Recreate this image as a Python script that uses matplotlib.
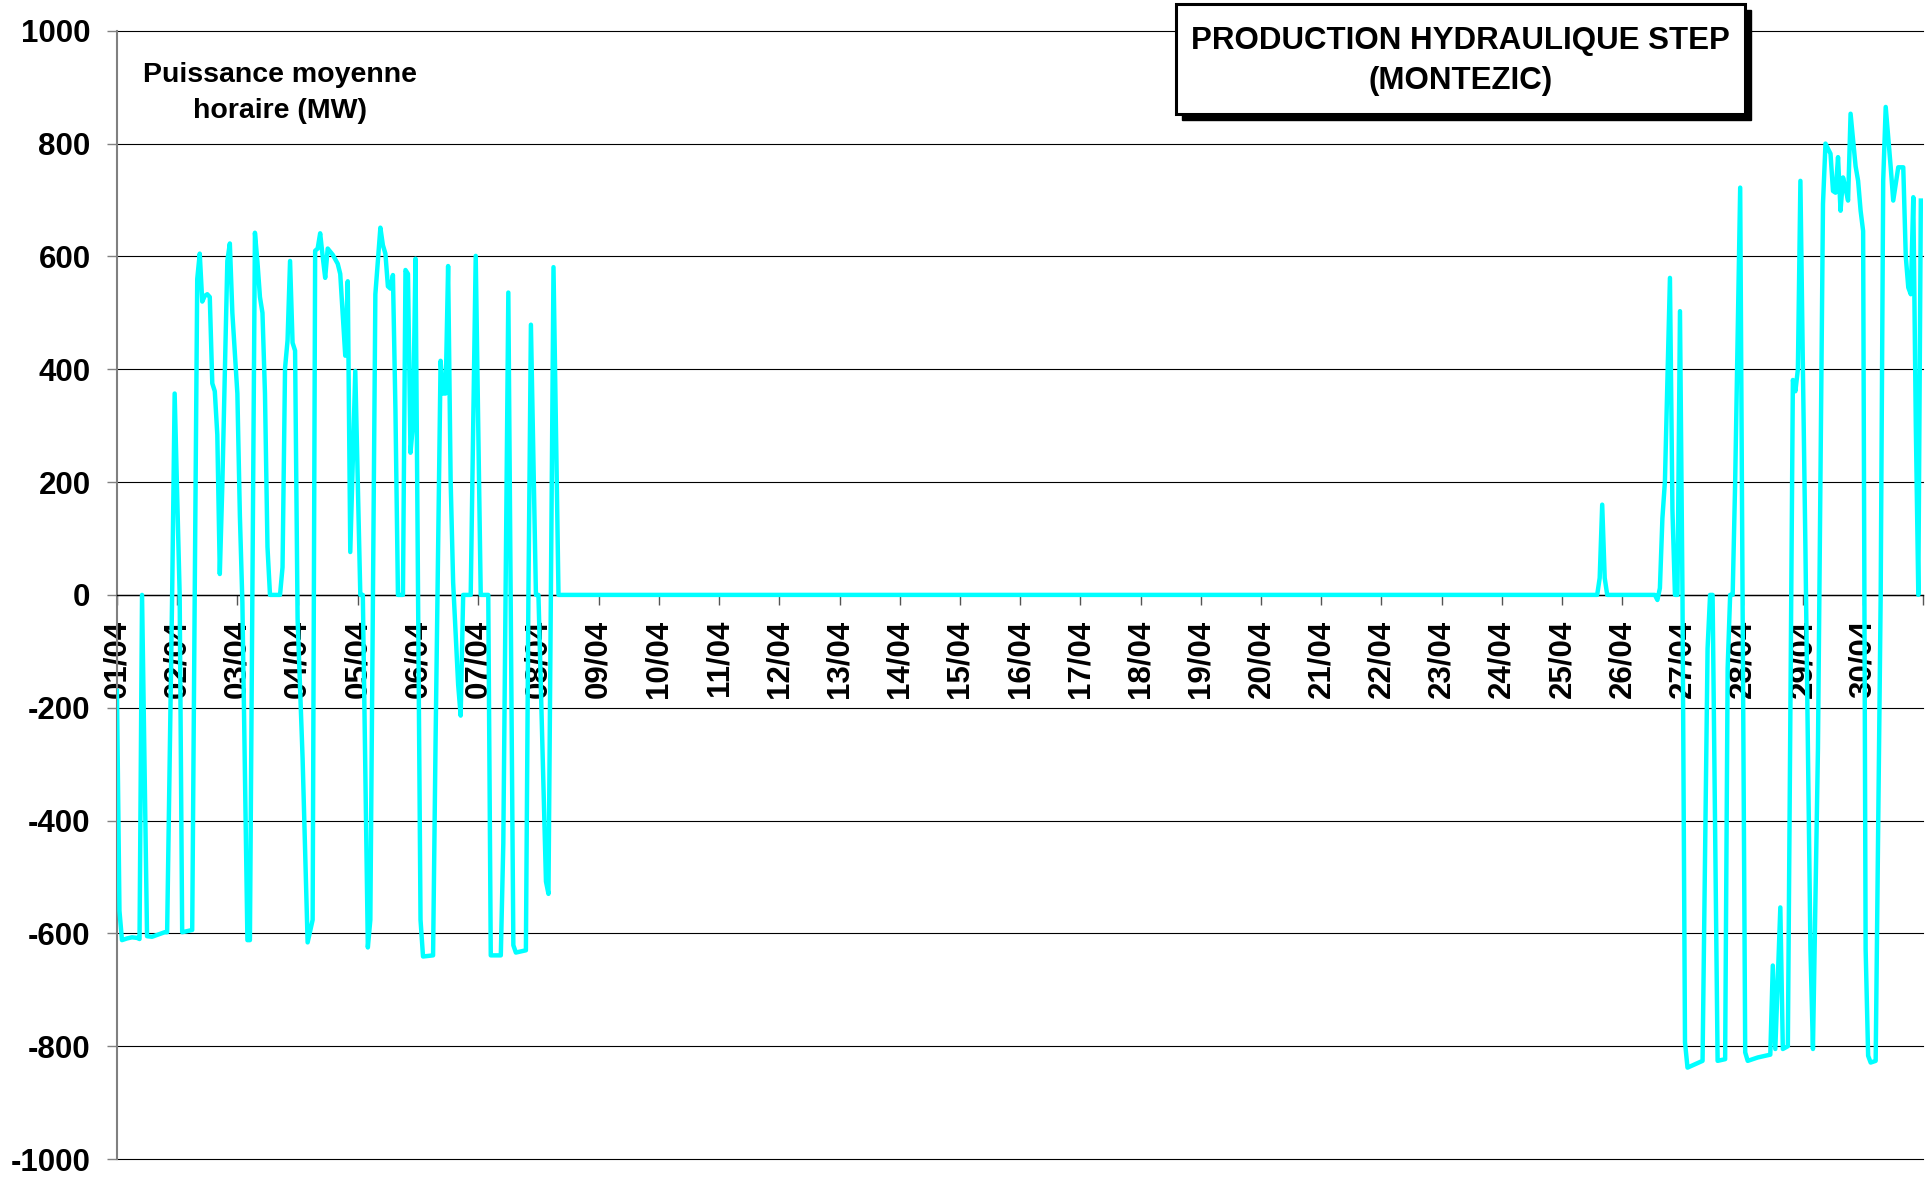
import matplotlib
matplotlib.use("Agg")
import matplotlib.pyplot as plt
from matplotlib.patches import Rectangle

# hourly mean power, vertices (hour index from 01/04 00h, MW)
hours = [0, 1, 2, 4, 6, 8, 9, 10, 12, 14, 19, 20, 22, 23, 25, 26, 30, 31,
         32, 33, 34, 35, 36, 37, 38, 39, 40, 41, 42, 44, 45, 46, 48, 49, 50,
         52, 53, 55, 56, 57, 58, 59, 60, 61, 65, 66, 67, 68, 69, 70, 71, 72,
         74, 76, 78, 79, 80, 81, 82, 83, 84, 86, 88, 89, 91, 92, 93, 95, 97,
         98, 100, 101, 103, 105, 106, 107, 108, 109, 110, 111, 112, 114, 115,
         116, 117, 118, 119, 121, 122, 126, 127, 129, 130, 131, 132, 133, 134,
         136, 137, 138, 141, 143, 145, 148, 149, 153, 154, 156, 158, 159, 163,
         164, 165, 167, 168, 171, 172, 174, 176,
         590, 591, 592, 593, 594, 613, 614, 615, 616, 617, 619, 620, 621, 622,
         623, 624, 625, 626, 632, 634, 635, 636, 638, 641, 642, 643, 644, 645,
         647, 649, 650, 654, 659, 660, 661, 663, 664, 666, 668, 669, 670, 671,
         672, 673, 675, 676, 678, 680, 681, 683, 684, 685, 686, 687, 688, 689,
         690, 691, 693, 694, 695, 696, 697, 698, 699, 701, 703, 704, 705, 707,
         708, 710, 712, 713, 714, 715, 716, 717, 718, 719]
mw = [-170, -560, -612, -609, -607, -608, -610, 0, -605, -606, -598, -598, 0,
      357, 0, -598, -594, 0,
      560, 605, 520, 530, 533, 528, 375, 361, 284, 37, 194, 592, 623, 500,
      357, 140, -14,
      -612, -612, 642, 590, 528, 500, 357, 85, 0, 0, 49, 402, 451, 592, 447,
      433, -42,
      -290, -616, -576, 610, 614, 641, 600, 562, 614, 603, 587, 569, 424, 556,
      76, 397, 0,
      0, -625, -576, 533, 651, 620, 605, 547, 543, 567, 329, 0, 0, 576,
      569, 252, 302, 596, -576, -641, -639, -259, 415, 357, 357, 583, 203, 22,
      -159, -214, 0, 0, 601, 0, 0, -639, -639, -440, 536, -621, -634, -630,
      -5, 479, 0, 0, -508, -530, 581, 0,
      0, 30, 160, 30, 0, 0, -9, 12, 136, 201, 562, 150, 0, 0,
      503, 0, -793, -838, -826, -95, 0, 0, -826, -823, -130, 0, 0, 201,
      722, -811, -826, -820, -815, -657, -805, -554, -805, -800, 381, 361, 400, 734,
      400, 83, -628, -805, -272, 693, 800, 782, 716, 713, 776, 681, 740, 720,
      699, 853, 760, 734, 681, 645, -628, -817, -829, -826, 0, 734, 865, 758,
      699, 758, 758, 600, 545, 533, 705, 300, 0, 699]

day_labels = ["01/04", "02/04", "03/04", "04/04", "05/04", "06/04", "07/04",
              "08/04", "09/04", "10/04", "11/04", "12/04", "13/04", "14/04",
              "15/04", "16/04", "17/04", "18/04", "19/04", "20/04", "21/04",
              "22/04", "23/04", "24/04", "25/04", "26/04", "27/04", "28/04",
              "29/04", "30/04"]
y_ticks = [-1000, -800, -600, -400, -200, 0, 200, 400, 600, 800, 1000]

plt.rcParams['font.family'] = ['Liberation Sans', 'DejaVu Sans']
plt.rcParams['font.weight'] = 'bold'

fig = plt.figure(figsize=(19.33, 11.84), dpi=100)
ax = fig.add_axes([0.0605, 0.0211, 0.9345, 0.9529])

ax.plot(hours, mw, color="#00FFFF", linewidth=3.2, zorder=3)

#spine position first, it resets the tick settings
ax.spines["top"].set_visible(False)
ax.spines["right"].set_visible(False)
ax.spines["left"].set_color("#808080")
ax.spines["left"].set_linewidth(1.5)
ax.spines["bottom"].set_position(("data", 0))
ax.spines["bottom"].set_color("black")
ax.spines["bottom"].set_linewidth(1.0)

ax.set_xlim(0, 720)
ax.set_ylim(-1000, 1000)
ax.set_yticks(y_ticks)
ax.set_yticklabels([str(v) for v in y_ticks], fontsize=22.5, fontweight="bold")
ax.set_xticks([24 * i for i in range(31)])
ax.set_xticklabels(day_labels + [""], rotation=90, fontsize=22.5,
                   fontweight="bold", va="top", ha="center")
ax.tick_params(axis="y", length=7, width=1, color="#808080", pad=12)
ax.tick_params(axis="x", length=7, width=1, color="#555555", pad=11)

#horizontal grid lines only
ax.yaxis.grid(True, color="black", linewidth=0.8)
ax.set_axisbelow(True)
for gl in ax.get_ygridlines():
    gl.set_clip_on(False)

fig.text(0.1449, 0.9216, "Puissance moyenne\nhoraire (MW)", fontsize=20.5,
         fontweight="bold", ha="center", va="center", linespacing=1.5)

#title box with drop shadow
fig.patches.append(Rectangle((0.6115, 0.8986), 0.2944, 0.0929,
                             transform=fig.transFigure, facecolor="black",
                             edgecolor="black", zorder=5))
fig.patches.append(Rectangle((0.6084, 0.9037), 0.2944, 0.0929,
                             transform=fig.transFigure, facecolor="white",
                             edgecolor="black", linewidth=2.2, zorder=6))
fig.text(0.7554, 0.9485, "PRODUCTION HYDRAULIQUE STEP\n(MONTEZIC)",
         fontsize=22.5, fontweight="bold", ha="center", va="center",
         linespacing=1.45, zorder=7)

fig.savefig("out.png", dpi=100)
